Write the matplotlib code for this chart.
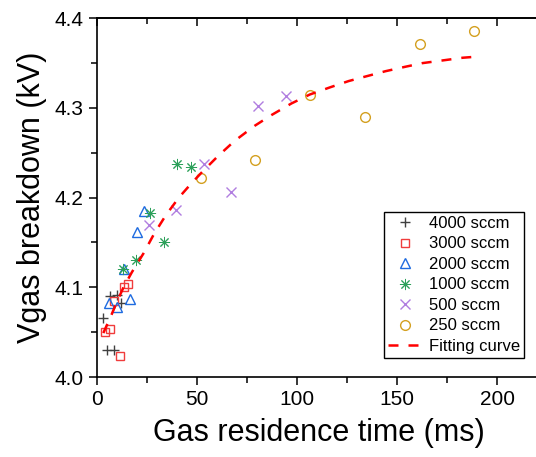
import matplotlib
matplotlib.use("Agg")
import matplotlib.pyplot as plt
from matplotlib.ticker import MultipleLocator

plt.rcParams['font.family'] = ['Liberation Sans', 'DejaVu Sans']

# data
t4000 = [3.3, 6.7, 10.1, 12.2, 5.0, 8.4]
v4000 = [4.066, 4.090, 4.092, 4.082, 4.030, 4.030]
t3000 = [4.2, 6.7, 11.4, 8.4, 13.4, 15.7]
v3000 = [4.050, 4.053, 4.023, 4.085, 4.100, 4.104]
t2000 = [6.3, 10.1, 16.8, 13.4, 20.1, 23.4]
v2000 = [4.082, 4.078, 4.087, 4.120, 4.162, 4.185]
t1000 = [13.0, 19.5, 33.4, 26.6, 40.2, 46.9]
v1000 = [4.120, 4.130, 4.150, 4.183, 4.238, 4.234]
t500 = [26.0, 39.4, 53.6, 67.1, 80.5, 94.4]
v500 = [4.170, 4.186, 4.238, 4.206, 4.302, 4.313]
t250 = [52.0, 79.1, 106.4, 133.8, 161.3, 188.6]
v250 = [4.222, 4.242, 4.315, 4.290, 4.371, 4.386]

fit_t = [3.3, 7.5, 10.1, 13.4, 17.6, 23.4, 28.5, 34.4, 41.0, 46.9, 52.8, 60.4,
         68.7, 78.8, 87.2, 97.2, 106.4, 116.5, 125.8, 134.1, 144.2, 154.2,
         162.6, 172.7, 182.7, 188.6]
fit_v = [4.049, 4.070, 4.084, 4.100, 4.117, 4.138, 4.159, 4.180, 4.200, 4.215,
         4.229, 4.246, 4.263, 4.280, 4.292, 4.305, 4.315, 4.323, 4.330, 4.335,
         4.341, 4.346, 4.350, 4.353, 4.356, 4.357]

fig = plt.figure(figsize=(5.36, 4.57), dpi=100)
ax = fig.add_axes([0.1804, 0.175, 0.8296, 0.785])

ax.plot(t4000, v4000, '+', color='#404040', ms=7, mew=1.0, label='4000 sccm')
ax.plot(t3000, v3000, 's', color='#f03c3c', mfc='none', ms=6, mew=1.0, label='3000 sccm')
ax.plot(t2000, v2000, '^', color='#1e6be0', mfc='none', ms=7, mew=1.0, label='2000 sccm')
ax.plot(t1000, v1000, marker=(8, 2, 0), ls='none', color='#2ca05a', ms=8, mew=0.7, label='1000 sccm')
ax.plot(t500, v500, 'x', color='#b07ee0', ms=7, mew=1.0, label='500 sccm')
ax.plot(t250, v250, 'o', color='#d4a020', mfc='none', ms=7, mew=1.0, label='250 sccm')
ax.plot(fit_t, fit_v, '--', color='#ff0000', lw=1.8, dashes=(4, 4), label='Fitting curve')

ax.set_xlim(0, 222)
ax.set_ylim(4.0, 4.4)
ax.xaxis.set_major_locator(MultipleLocator(50))
ax.xaxis.set_minor_locator(MultipleLocator(25))
ax.yaxis.set_major_locator(MultipleLocator(0.1))
ax.yaxis.set_minor_locator(MultipleLocator(0.05))
ax.yaxis.set_major_formatter(plt.FormatStrFormatter('%.1f'))

ax.spines['right'].set_visible(False)
for s in ['left', 'bottom', 'top']:
    ax.spines[s].set_linewidth(1.2)
ax.tick_params(which='both', direction='out', top=False, right=False, width=1.1)
ax.tick_params(which='major', length=6, labelsize=15)
ax.tick_params(which='minor', length=4)

# inward ticks on the top spine
top = ax.secondary_xaxis('top')
top.xaxis.set_major_locator(MultipleLocator(50))
top.xaxis.set_minor_locator(MultipleLocator(25))
top.tick_params(which='both', direction='in', labeltop=False, width=1.1)
top.tick_params(which='major', length=6)
top.tick_params(which='minor', length=4)
top.spines['top'].set_linewidth(1.2)

ax.set_xlabel('Gas residence time (ms)', fontsize=22, labelpad=6)
ax.set_ylabel('Vgas breakdown (kV)', fontsize=22, labelpad=5)

leg = ax.legend(loc='lower right', bbox_to_anchor=(524 / 536, (457 - 358) / 457),
                bbox_transform=fig.transFigure, fontsize=12, frameon=True,
                fancybox=False, edgecolor='black', framealpha=1,
                labelspacing=0.33, handlelength=2.0, handletextpad=0.45,
                borderpad=0.25, borderaxespad=0)
leg.get_frame().set_linewidth(1.0)

fig.savefig('out.png', dpi=100)
